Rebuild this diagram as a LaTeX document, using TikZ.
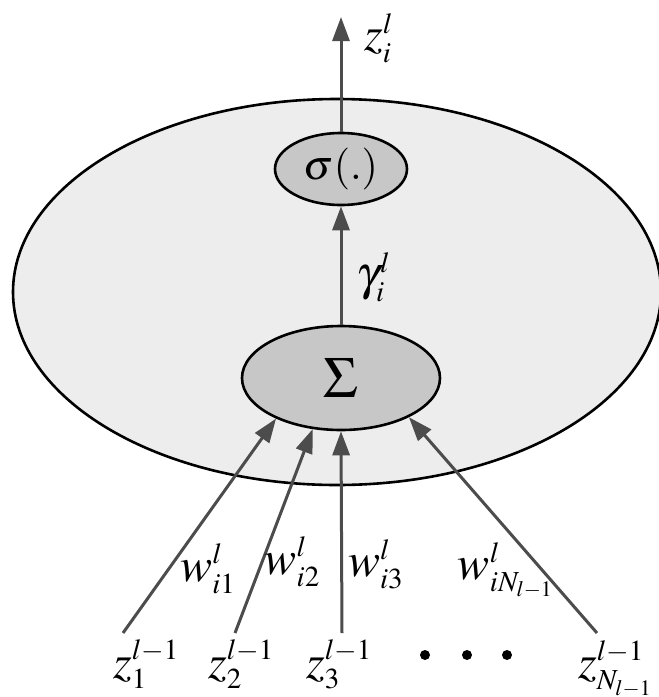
\documentclass[tikz,border=0pt]{standalone}
\usepackage{mathptmx}
\usetikzlibrary{arrows.meta,shapes.geometric}
\DeclareMathSizes{48}{48}{29}{22}
\definecolor{cellGray}{gray}{0.93}
\definecolor{unitGray}{gray}{0.78}
\definecolor{wireGray}{gray}{0.30}
\tikzset{
  cell/.style={ellipse, draw=black, line width=2.6pt, fill=cellGray, inner sep=0pt},
  unit/.style={ellipse, draw=black, line width=2.6pt, fill=unitGray, inner sep=0pt},
  wire/.style={-{Triangle[length=24pt, width=17pt]}, line width=3pt, draw=wireGray},
  inlabel/.style={inner sep=0pt, anchor=base west},
  wlabel/.style={inner sep=0pt},
  dot/.style={circle, fill=black, minimum size=10pt, inner sep=0pt}
}
\begin{document}
\begin{tikzpicture}[x=1pt, y=-1pt, font=\fontsize{48}{52}\selectfont]
  \useasboundingbox (0,0) rectangle (659,697);
  \node[cell, minimum width=648pt, minimum height=386pt] (neuron) at (337,292) {};
  \node[unit, minimum width=198pt, minimum height=104pt, font=\fontsize{58}{62}\selectfont] (sum) at (341,378) {$\Sigma$};
  \node[unit, minimum width=132pt, minimum height=72pt, font=\fontsize{42}{46}\selectfont] (act) at (341,169) {$\sigma(.)$};

  \coordinate (out) at (341,17);
  \draw[wire] (act) -- (out);
  \node[anchor=west, inner sep=0pt] (zout) at (364,38) {$z^l_i$};
  \draw[wire] (sum) -- node[pos=.4, anchor=west, wlabel, xshift=14pt] {$\gamma^l_i$} (act);

  \coordinate (in1) at (123,633);
  \coordinate (in2) at (235,633);
  \coordinate (in3) at (342,633);
  \coordinate (inN) at (597,633);
  \draw[wire] (in1) -- node[pos=.3, anchor=west, wlabel, xshift=10pt] {$w^l_{i1}$} (sum.212);
  \draw[wire] (in2) -- node[pos=.35, anchor=west, wlabel, xshift=1pt] {$w^l_{i2}$} (sum.241);
  \draw[wire] (in3) -- node[pos=.34, anchor=west, wlabel, xshift=5pt] {$w^l_{i3}$} (sum.270);
  \draw[wire] (inN) -- node[pos=.29, anchor=east, wlabel, xshift=12pt] {$w^l_{iN_{l-1}}$} (sum.330);

  \node[inlabel] (z1) at (113,678) {$z^{l-1}_1$};
  \node[inlabel] (z2) at (208,678) {$z^{l-1}_2$};
  \node[inlabel] (z3) at (306,678) {$z^{l-1}_3$};
  \node[inlabel] (zN) at (578,678) {$z^{l-1}_{N_{l-1}}$};

  \foreach \k/\x in {1/425,2/467,3/507}{
    \node[dot] (dot\k) at (\x,655) {};
  }
\end{tikzpicture}
\end{document}
